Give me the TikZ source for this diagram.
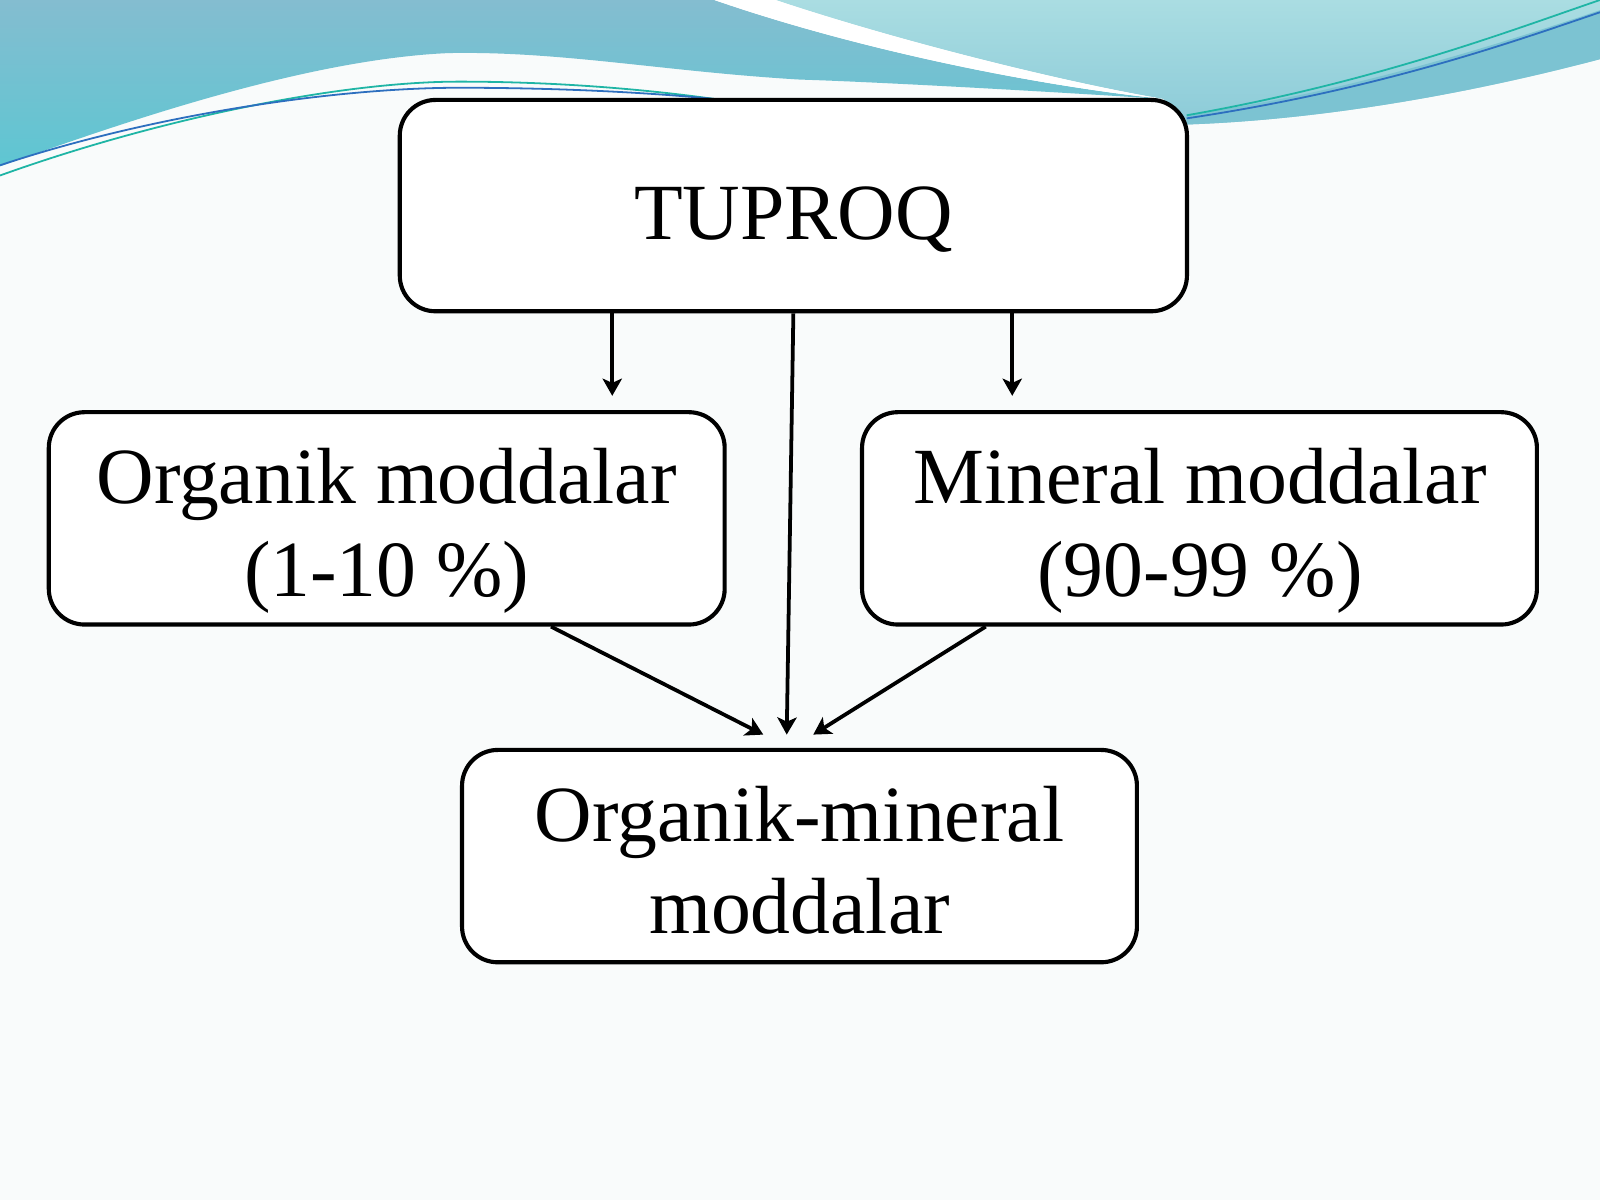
\documentclass[tikz,border=0pt]{standalone}
\usepackage{fontspec}
\setmainfont{Liberation Serif}
\usetikzlibrary{arrows.meta,calc}
\definecolor{bgc}{HTML}{F9FBFB}
\definecolor{tealA}{HTML}{84BDD0}
\definecolor{tealB}{HTML}{5EC6D2}
\definecolor{lightA}{HTML}{AADDE2}
\definecolor{lightB}{HTML}{8CCBD8}
\definecolor{bandc}{HTML}{7CC3D2}
\definecolor{lineteal}{HTML}{1FB5A5}
\definecolor{lineblue}{HTML}{2D6FBF}
\begin{document}
\begin{tikzpicture}[x=0.01cm,y=-0.01cm,
  box/.style={draw=black, line width=1.15pt, rounded corners=0.35cm, fill=white, inner sep=0pt},
  lbl/.style={font=\fontsize{22.2}{26}\selectfont, inner sep=0pt},
  arr/.style={-{Stealth[length=4.8pt,width=5.4pt,inset=1.2pt]}, line width=1.05pt},
  wline/.style={line width=0.5pt}]
\useasboundingbox (0,0) rectangle (1568,1176);
\fill[bgc] (0,0) rectangle (1568,1176);
% right light region
\shade[top color=lightA, bottom color=lightB]
  (760,0) -- (1568,0) -- (1568,58) .. controls (1420,97) and (1280,118) .. (1163,122)
  -- (1140,97) .. controls (1040,80) and (880,40) .. (760,0) -- cycle;
\fill[bandc] (1163,112) .. controls (1300,95) and (1450,50) .. (1568,10) -- (1568,58)
  .. controls (1420,97) and (1280,118) .. (1163,122) -- cycle;
% left teal region
\shade[top color=tealA, bottom color=tealB]
  (0,0) -- (700,0) .. controls (830,45) and (1000,82) .. (1140,97)
  .. controls (1000,88) and (850,80) .. (784,78)
  .. controls (650,70) and (550,50) .. (440,52)
  .. controls (300,58) and (120,120) .. (0,163) -- cycle;
% white swoosh
\fill[white] (700,0) -- (760,0) .. controls (880,40) and (1040,80) .. (1140,97)
  .. controls (1000,82) and (830,45) .. (700,0) -- cycle;
% thin lines
\draw[wline, lineteal] (0,172) .. controls (150,118) and (330,80) .. (450,80) .. controls (560,80) and (650,90) .. (700,97);
\draw[wline, lineblue] (0,162) .. controls (150,112) and (330,86) .. (450,86) .. controls (560,86) and (650,92) .. (700,97);
\draw[wline, lineteal] (1163,113) .. controls (1350,80) and (1480,30) .. (1568,0);
\draw[wline, lineblue] (1163,116) .. controls (1350,88) and (1480,42) .. (1568,12);
% boxes
\node[box, minimum width=7.71cm, minimum height=2.07cm] (tup) at (777.5,201.5) {};
\node[box, minimum width=6.62cm, minimum height=2.08cm] (org) at (379,508) {};
\node[box, minimum width=6.61cm, minimum height=2.08cm] (min) at (1175.5,508) {};
\node[box, minimum width=6.61cm, minimum height=2.08cm] (om) at (783.5,839) {};
% labels
\node[lbl, anchor=base] (tupt) at (777.5,235) {TUPROQ};
\node[lbl, anchor=base] (orgt1) at (379,493) {Organik moddalar};
\node[lbl, anchor=base] (orgt2) at (379,585) {(1-10 \%)};
\node[lbl, anchor=base] (mint1) at (1176,493) {Mineral moddalar};
\node[lbl, anchor=base] (mint2) at (1176,585) {(90-99 \%)};
\node[lbl, anchor=base] (omt1) at (783.5,825) {Organik-mineral};
\node[lbl, anchor=base] (omt2) at (783.5,915) {moddalar};
% connectors
\draw[arr] ($(tup.south)+(-177.5,0)$) -- ($(org.north)+(221,-14)$);
\draw[arr] ($(tup.south)+(214.5,0)$) -- ($(min.north)+(-183.5,-14)$);
\draw[arr] (tup.south) -- ($(om.north)+(-12.5,-13)$);
\draw[arr] ($(org.south)+(161,0)$) -- ($(om.north)+(-35.5,-13)$);
\draw[arr] ($(min.south)+(-209.5,0)$) -- ($(om.north)+(13.5,-13)$);
\end{tikzpicture}
\end{document}
